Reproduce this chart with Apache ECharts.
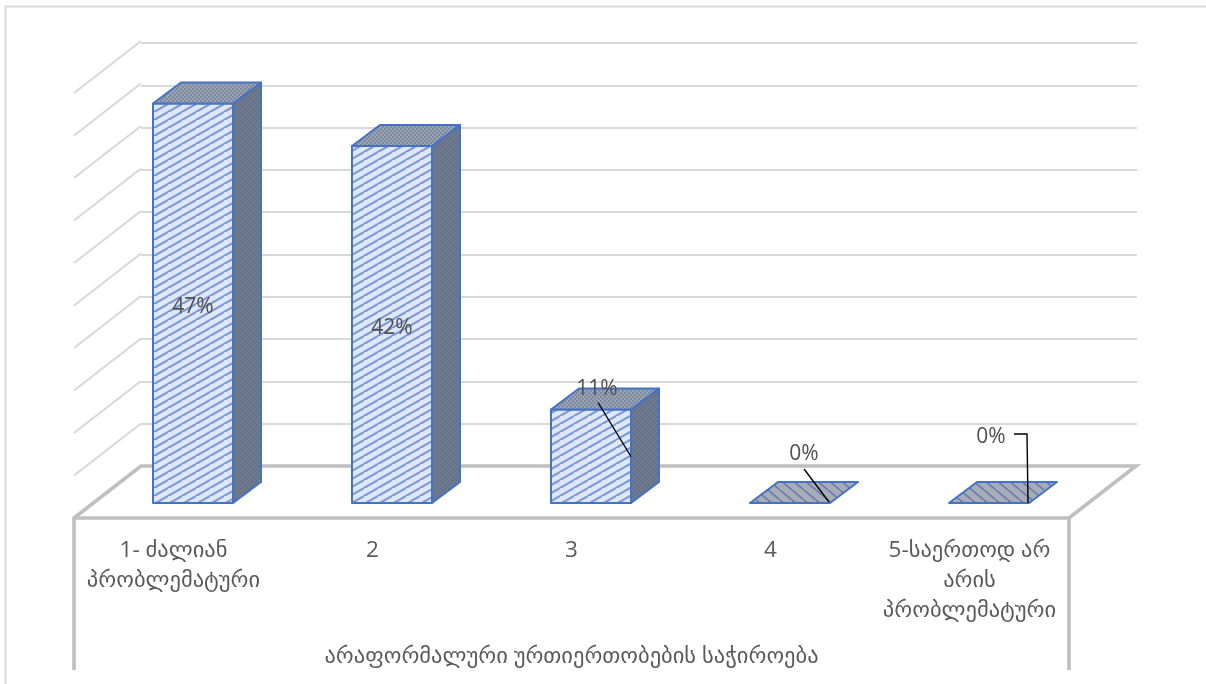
<!DOCTYPE html>
<html>
<head>
<meta charset="utf-8">
<script src="https://cdn.jsdelivr.net/npm/echarts@6/dist/echarts.min.js"></script>
<style>
  html, body { margin: 0; padding: 0; background: #fff; }
  #chart { width: 1206px; height: 684px; }
</style>
</head>
<body>
<div id="chart"></div>
<script>
// Survey answers on a 1-5 scale
const categories = [
  '1- ძალიან\nპრობლემატური',
  '2',
  '3',
  '4',
  '5-საერთოდ არ\nარის\nპრობლემატური'
];
const shares = [47, 42, 11, 0, 0];
const axisTitle = 'არაფორმალური ურთიერთობების საჭიროება';
const valueMax = 50;
const valueStep = 5;
const gridValues = [5, 10, 15, 20, 25, 30, 35, 40, 45, 50];

// Projection of the fake 3D box, in pixels
const WALL_DEPTH = { x: 67, y: -52 };
const BAR_SHIFT = { x: 19.5, y: -15 };
const BAR_DEPTH = { x: 28, y: -21 };
const BAR_WIDTH_RATIO = 80 / 199;
const POST_LENGTH = 152;

// Data label placement relative to the top centre of a bar's front face
const labelPlacement = [
  { mid: true, leader: null },
  { mid: true, leader: null },
  { dx: 6, dy: -20, leader: [[7, -7], [40, 47]] },
  { dx: 14, dy: -49, leader: [[14, -34], [39, -1]] },
  { dx: 2, dy: -66, leader: [[25, -69], [38, -69], [39, 0]] }
];

const EDGE = '#4472c4';
const FLOOR = '#bfbfbf';
const GRID = '#d9d9d9';
const TEXT_FONT = '"Open Sans","DejaVu Sans",sans-serif';

function tile(w, h, paint) {
  const c = document.createElement('canvas');
  c.width = w;
  c.height = h;
  paint(c.getContext('2d'), w, h);
  return { image: c, repeat: 'repeat' };
}

// Wide upward diagonal hatch on the front faces
const frontFill = tile(14, 8, (g, w, h) => {
  g.fillStyle = '#dfe7f5';
  g.fillRect(0, 0, w, h);
  g.strokeStyle = '#7a99d6';
  g.lineWidth = 2.1;
  [0, w, -w].forEach(x => {
    [0, h].forEach(y => {
      g.beginPath();
      g.moveTo(x, y + h);
      g.lineTo(x + w, y);
      g.stroke();
    });
  });
});

function dots(base, dot) {
  return tile(4, 4, (g, w, h) => {
    g.fillStyle = base;
    g.fillRect(0, 0, w, h);
    g.fillStyle = dot;
    g.fillRect(0, 0, 1.6, 1.6);
    g.fillRect(2, 2, 1.6, 1.6);
  });
}
const topFill = dots('#9da3ae', '#6c7ea1');
const sideFill = dots('#737a86', '#5a6f98');

// Flat marks for the zero shares use a downward hatch
const flatFill = tile(12, 10, (g, w, h) => {
  g.fillStyle = '#a9acb5';
  g.fillRect(0, 0, w, h);
  g.strokeStyle = '#5e7cb8';
  g.lineWidth = 1.6;
  [-w, 0, w].forEach(x => {
    g.beginPath();
    g.moveTo(x, 0);
    g.lineTo(x + w, h);
    g.stroke();
  });
});

function renderBar(params, api) {
  const i = api.value(0);
  const value = api.value(1);
  const band = api.size([1, 0])[0];
  const width = band * BAR_WIDTH_RATIO;
  const base = api.coord([i, 0]);
  const head = api.coord([i, value]);
  const x0 = base[0] + BAR_SHIFT.x - width / 2;
  const x1 = x0 + width;
  const yBase = base[1] + BAR_SHIFT.y;
  const yTop = head[1] + BAR_SHIFT.y;
  const dx = BAR_DEPTH.x;
  const dy = BAR_DEPTH.y;
  const edge = { stroke: EDGE, lineWidth: 2, lineJoin: 'round' };
  const poly = (points, fill) => ({
    type: 'polygon',
    shape: { points },
    style: Object.assign({ fill }, edge)
  });
  const children = [];
  if (value > 0) {
    children.push(poly([[x0, yTop], [x1, yTop], [x1, yBase], [x0, yBase]], frontFill));
    children.push(poly([[x1, yTop], [x1 + dx, yTop + dy], [x1 + dx, yBase + dy], [x1, yBase]], sideFill));
    children.push(poly([[x0, yTop], [x0 + dx, yTop + dy], [x1 + dx, yTop + dy], [x1, yTop]], topFill));
  } else {
    children.push(poly([[x0, yBase], [x0 + dx, yBase + dy], [x1 + dx, yBase + dy], [x1, yBase]], flatFill));
  }
  const place = labelPlacement[i];
  const cx = x0 + width / 2;
  if (place.leader) {
    children.push({
      type: 'polyline',
      shape: { points: place.leader.map(p => [cx + p[0], yTop + p[1]]) },
      style: { stroke: '#000', lineWidth: 1.4, fill: 'none' }
    });
  }
  children.push({
    type: 'text',
    style: {
      x: place.mid ? cx : cx + place.dx,
      y: place.mid ? (yTop + yBase) / 2 + 4 : yTop + place.dy,
      text: value + '%',
      fill: '#505050',
      font: '21px ' + TEXT_FONT,
      align: 'center',
      verticalAlign: 'middle'
    }
  });
  return { type: 'group', children };
}

// Slanted gridlines on the left wall
function renderWallLine(params, api) {
  const p = api.coord([0, api.value(0)]);
  const x = params.coordSys.x;
  return {
    type: 'line',
    shape: { x1: x, y1: p[1], x2: x + WALL_DEPTH.x, y2: p[1] + WALL_DEPTH.y },
    style: { stroke: GRID, lineWidth: 2.2 }
  };
}

// Floor outline and the two posts under the front edge
function renderFloor(params) {
  const c = params.coordSys;
  const yf = c.y + c.height;
  const xl = c.x;
  const xr = c.x + c.width;
  const d = WALL_DEPTH;
  const stroke = { stroke: FLOOR, lineWidth: 3.6, fill: 'none', lineJoin: 'miter' };
  return {
    type: 'group',
    children: [
      { type: 'polyline', shape: { points: [[xl, yf], [xl + d.x, yf + d.y], [xr + d.x, yf + d.y], [xr, yf]] }, style: stroke },
      { type: 'line', shape: { x1: xl, y1: yf, x2: xl, y2: yf + POST_LENGTH }, style: stroke },
      { type: 'line', shape: { x1: xr, y1: yf, x2: xr, y2: yf + POST_LENGTH }, style: stroke }
    ]
  };
}

const chart = echarts.init(document.getElementById('chart'), null, { renderer: 'canvas' });
chart.setOption({
  animation: false,
  backgroundColor: '#fff',
  grid: [
    // Back wall
    { left: 141, top: 43, width: 996, height: 423 },
    // Front plane
    { left: 74, top: 93, width: 995, height: 425 }
  ],
  xAxis: [
    { gridIndex: 0, type: 'category', data: categories, show: false },
    {
      gridIndex: 1,
      type: 'category',
      data: categories,
      axisLine: { lineStyle: { color: FLOOR, width: 3.6 } },
      axisTick: { show: false },
      axisLabel: {
        interval: 0,
        margin: 18,
        color: '#595959',
        fontSize: 22.5,
        lineHeight: 30,
        fontFamily: TEXT_FONT
      },
      name: axisTitle,
      nameLocation: 'middle',
      nameGap: 127,
      nameTextStyle: { color: '#595959', fontSize: 22.5, fontFamily: TEXT_FONT }
    }
  ],
  yAxis: [
    {
      gridIndex: 0,
      type: 'value',
      min: 0,
      max: valueMax,
      interval: valueStep,
      axisLine: { show: false },
      axisTick: { show: false },
      axisLabel: { show: false },
      splitLine: { lineStyle: { color: GRID, width: 2.2 } }
    },
    {
      gridIndex: 1,
      type: 'value',
      min: 0,
      max: valueMax,
      interval: valueStep,
      show: false,
      splitLine: { show: false }
    }
  ],
  series: [
    {
      type: 'custom',
      xAxisIndex: 1,
      yAxisIndex: 1,
      clip: false,
      z: 2,
      data: gridValues.map(v => [v]),
      encode: { y: 0 },
      renderItem: renderWallLine
    },
    {
      type: 'custom',
      xAxisIndex: 1,
      yAxisIndex: 1,
      clip: false,
      z: 3,
      data: [[0]],
      encode: { y: 0 },
      renderItem: renderFloor
    },
    {
      type: 'custom',
      xAxisIndex: 1,
      yAxisIndex: 1,
      clip: false,
      z: 4,
      data: shares.map((v, i) => [i, v]),
      encode: { x: 0, y: 1 },
      renderItem: renderBar
    }
  ],
  graphic: [
    // Outer chart frame, open on the right and at the bottom
    {
      type: 'polyline',
      silent: true,
      shape: { points: [[5.5, 684], [5.5, 6.5], [1206, 6.5]] },
      style: { stroke: GRID, lineWidth: 2, fill: 'none' }
    }
  ]
});
</script>
</body>
</html>
